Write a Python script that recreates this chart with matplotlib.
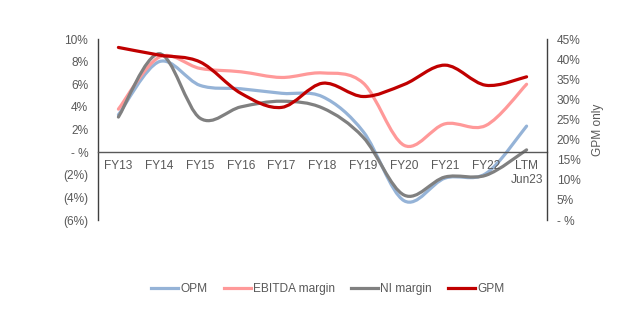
import matplotlib
matplotlib.use("Agg")
import matplotlib.pyplot as plt
from matplotlib.path import Path
from matplotlib.patches import PathPatch
from matplotlib.lines import Line2D
import numpy as np

plt.rcParams['font.family'] = ['Liberation Sans', 'DejaVu Sans']

categories = ["FY13", "FY14", "FY15", "FY16", "FY17", "FY18", "FY19", "FY20", "FY21", "FY22", "LTM\nJun23"]
opm = [3.3, 8.0, 5.9, 5.6, 5.2, 4.9, 1.8, -4.3, -2.3, -1.9, 2.3]
ebitda = [3.8, 8.4, 7.4, 7.1, 6.6, 7.0, 6.1, 0.6, 2.5, 2.35, 6.0]
ni = [3.1, 8.7, 3.0, 4.0, 4.5, 3.9, 1.3, -3.8, -2.2, -2.05, 0.2]
gpm = [42.9, 41.0, 39.3, 31.5, 28.0, 34.0, 30.7, 33.7, 38.5, 33.5, 35.6]

left_ticks = [-6, -4, -2, 0, 2, 4, 6, 8, 10]
left_labels = ["(6%)", "(4%)", "(2%)", "- %", "2%", "4%", "6%", "8%", "10%"]
right_ticks = [0, 5, 10, 15, 20, 25, 30, 35, 40, 45]
right_labels = ["- %", "5%", "10%", "15%", "20%", "25%", "30%", "35%", "40%", "45%"]

TXT = "#595959"
FS = 8.6


def smooth_path(xs, ys, t=1/6):
    pts = np.column_stack([xs, ys]).astype(float)
    n = len(pts)
    verts = [pts[0]]
    codes = [Path.MOVETO]
    for i in range(n - 1):
        p0 = pts[i - 1] if i > 0 else pts[i]
        p1 = pts[i]
        p2 = pts[i + 1]
        p3 = pts[i + 2] if i + 2 < n else pts[i + 1]
        c1 = p1 + (p2 - p0) * t
        c2 = p2 - (p3 - p1) * t
        verts += [c1, c2, p2]
        codes += [Path.CURVE4] * 3
    return Path(verts, codes)


fig = plt.figure(figsize=(6.4, 3.13), dpi=100)
ax = fig.add_axes([98/640, 1 - 220/313, (547-98)/640, (220-39)/313])
ax2 = ax.twinx()

x = np.arange(len(categories))
series = [(opm, "#95B3D7", "OPM", ax), (ebitda, "#FF9999", "EBITDA margin", ax),
          (ni, "#808080", "NI margin", ax), (gpm, "#C00000", "GPM", ax2)]
handles = []
for vals, col, lab, a in series:
    p = PathPatch(smooth_path(x, vals), facecolor="none", edgecolor=col, lw=2.3,
                  capstyle="round", joinstyle="round")
    a.add_patch(p)
    handles.append(Line2D([], [], color=col, lw=2.3, label=lab))

ax.set_xlim(-0.5, len(categories) - 0.5)
ax.set_ylim(-6, 10)
ax2.set_ylim(0, 45)

ax.set_yticks(left_ticks)
ax.set_yticklabels(left_labels)
ax2.set_yticks(right_ticks)
ax2.set_yticklabels(right_labels)
ax.set_xticks(x)
ax.set_xticklabels(categories, va="top", linespacing=1.15)

for a in (ax, ax2):
    a.spines["top"].set_visible(False)
ax2.spines["bottom"].set_visible(False)
ax2.spines["left"].set_visible(False)
ax.spines["right"].set_visible(False)
ax.spines["bottom"].set_position(("data", 0))
ax.spines["bottom"].set_color(TXT)
ax.spines["bottom"].set_linewidth(1.0)
ax.spines["left"].set_color("#404040")
ax.spines["left"].set_linewidth(1.0)
ax2.spines["right"].set_color("#404040")
ax2.spines["right"].set_linewidth(1.0)

ax.tick_params(axis="y", length=0, pad=7, labelsize=FS, labelcolor=TXT)
ax.tick_params(axis="x", length=0, pad=6, labelsize=FS, labelcolor=TXT)
ax2.tick_params(axis="y", length=0, pad=7, labelsize=FS, labelcolor=TXT)
ax2.set_ylabel("GPM only", fontsize=FS, color=TXT, labelpad=8)

fig.legend(handles=handles, loc="center", bbox_to_anchor=(328/640, 1 - 289/313),
           ncol=4, frameon=False, fontsize=FS, labelcolor=TXT, handlelength=2.25,
           handletextpad=0.2, columnspacing=1.35)

fig.savefig("out.png", dpi=100)
